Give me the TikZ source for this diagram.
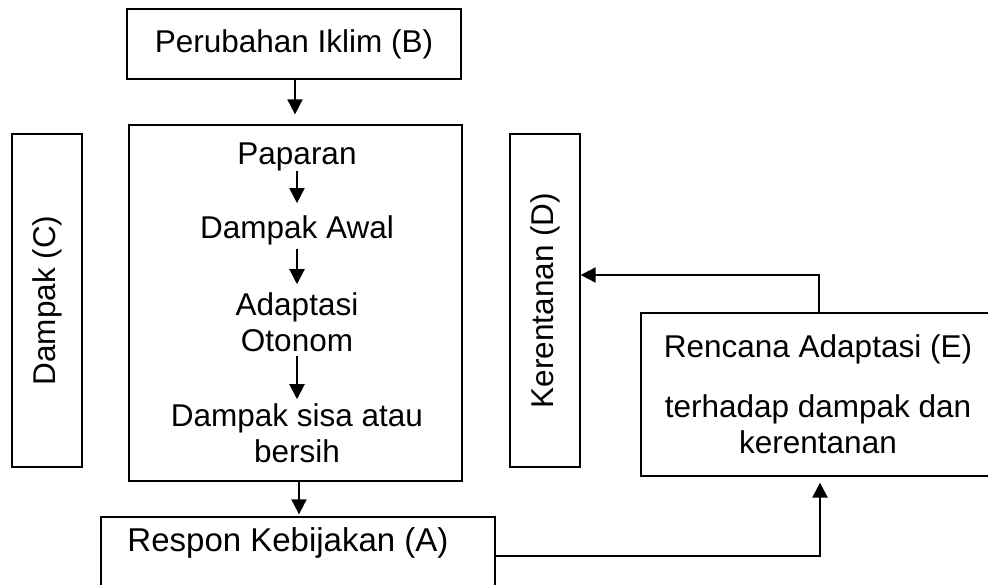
\documentclass[tikz,border=0pt]{standalone}
\usepackage{fontspec}
\setmainfont{Liberation Sans}
\usetikzlibrary{arrows.meta,calc}
\newcommand\figfont{\fontsize{31.5}{36}\selectfont}
\tikzset{
  box/.style={draw, line width=1.3pt, inner sep=0pt, font=\figfont, align=center},
  lbl/.style={inner sep=0pt, font=\figfont, align=center},
  arr/.style={line width=2pt, -{Triangle[length=15pt,width=15pt]}},
}
\begin{document}
\begin{tikzpicture}[x=1pt,y=-1pt]
\fill[white] (0,0) rectangle (988,584);
\useasboundingbox (0,0) rectangle (988,584);
% boxes
\node[box, minimum width=334pt, minimum height=70pt] (B) at (294,44) {Perubahan Iklim (B)};
\node[box, minimum width=333pt, minimum height=356pt] (M) at (295.5,303) {};
\node[box, rotate=90, minimum width=333pt, minimum height=70pt] (C) at (47,300.5) {Dampak (C)};
\node[box, rotate=90, minimum width=333pt, minimum height=70pt] (D) at (545,300.5) {Kerentanan (D)};
\node[box, minimum width=354pt, minimum height=163pt] (E) at (818,394.5) {Rencana Adaptasi (E)\\[24pt]terhadap dampak dan\\kerentanan};
\node[box, minimum width=394pt, minimum height=100pt] (A) at (298,567) {};
\node[lbl, font=\fontsize{33}{36}\selectfont] (At) at (288,543) {Respon Kebijakan (A)};
% inner texts
\node[lbl] (p1) at (297,157) {Paparan};
\node[lbl] (p2) at (297,230) {Dampak Awal};
\node[lbl] (p3) at (297,322) {Adaptasi\\Otonom};
\node[lbl] (p4) at (297,433) {Dampak sisa atau\\bersih};
% coordinates for bends
\coordinate (ed) at (819,275);
\coordinate (ae) at (820,556);
% connectors
\draw[arr, shorten >=10pt] (B.south -| 295,0) -- (M.north -| 295,0);
\draw[arr, shorten <=0pt, shorten >=12pt] (p1.south -| 297,0) -- (p2.north -| 297,0);
\draw[arr, shorten <=4pt, shorten >=8pt] (p2.south -| 297,0) -- (p3.north -| 297,0);
\draw[arr, shorten <=4pt, shorten >=4pt] (p3.south -| 297,0) -- (p4.north -| 297,0);
\draw[arr, shorten >=2pt] (M.south -| 299,0) -- (A.north -| 299,0);
\draw[arr] (E.north -| ed) |- (D.south |- ed);
\draw[arr, line width=2.6pt, shorten >=6pt] (A.east |- ae) -| (E.south -| ae);
\end{tikzpicture}
\end{document}
